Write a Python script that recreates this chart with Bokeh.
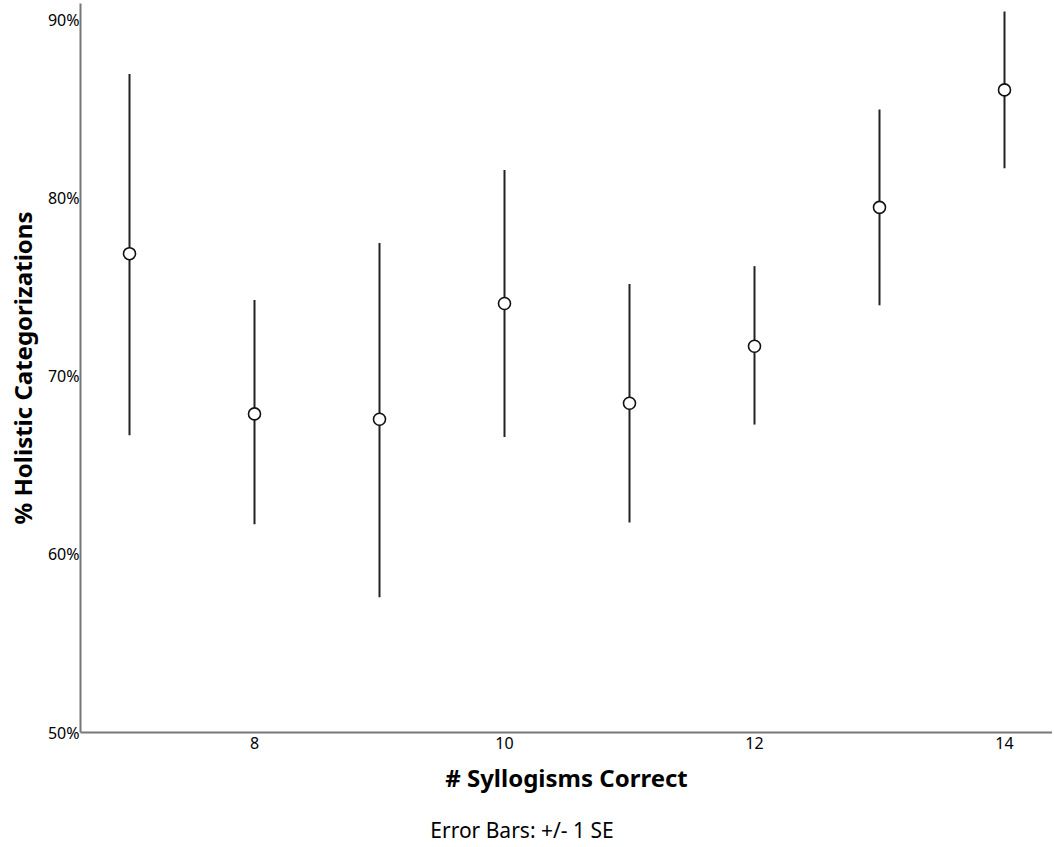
from bokeh.plotting import figure
from bokeh.models import FixedTicker, PrintfTickFormatter, Range1d, Div, ColumnDataSource
from bokeh.layouts import column
from bokeh.embed import file_html
from bokeh.resources import INLINE

syllogisms = [7, 8, 9, 10, 11, 12, 13, 14]
holistic_pct = [76.9, 67.9, 67.6, 74.1, 68.5, 71.7, 79.5, 86.1]
se_upper = [87.0, 74.3, 77.5, 81.6, 75.2, 76.2, 85.0, 90.5]
se_lower = [66.7, 61.7, 57.6, 66.6, 61.8, 67.3, 74.0, 81.7]
x_ticks = [8, 10, 12, 14]
y_ticks = [50, 60, 70, 80, 90]
note_text = "Error Bars: +/- 1 SE"

FONT = "Noto Sans"

src = ColumnDataSource(dict(x=syllogisms, y=holistic_pct, up=se_upper, lo=se_lower))

p = figure(width=1052, height=816, output_backend="svg", toolbar_location=None,
           x_range=Range1d(6.608, 14.384), y_range=Range1d(50, 90.955),
           min_border_left=80, min_border_right=0, min_border_top=3, min_border_bottom=84)
p.outline_line_color = None
p.grid.visible = False
p.background_fill_color = "white"

p.segment(x0="x", y0="lo", x1="x", y1="up", source=src, line_color="#222222", line_width=2)
p.scatter(x="x", y="y", source=src, marker="circle", size=12, fill_color="white",
          line_color="#111111", line_width=1.6)

for ax in (p.xaxis[0], p.yaxis[0]):
    ax.axis_line_color = "#777777"
    ax.axis_line_width = 2
    ax.major_tick_line_color = None
    ax.minor_tick_line_color = None
    ax.major_tick_out = 0
    ax.major_tick_in = 0
    ax.major_label_text_font = FONT
    ax.major_label_text_font_size = "16px"
    ax.major_label_text_color = "black"
    ax.axis_label_text_font = FONT
    ax.axis_label_text_font_size = "24px"
    ax.axis_label_text_font_style = "bold"
    ax.axis_label_text_color = "black"

p.xaxis[0].ticker = FixedTicker(ticks=x_ticks)
p.yaxis[0].ticker = FixedTicker(ticks=y_ticks)
p.yaxis[0].formatter = PrintfTickFormatter(format="%d%%")
p.xaxis[0].axis_label = "# Syllogisms Correct"
p.yaxis[0].axis_label = "% Holistic Categorizations"
p.xaxis[0].major_label_standoff = 4
p.yaxis[0].major_label_standoff = 1
p.xaxis[0].axis_label_standoff = 9
p.yaxis[0].axis_label_standoff = 6

note = Div(text=note_text, width=1052, height=30,
           styles={"text-align": "center", "font-family": "Noto Sans", "font-size": "21px",
                   "color": "black", "line-height": "28px", "margin": "0",
                   "padding-right": "8px", "box-sizing": "border-box"})

layout = column(p, note, spacing=0)

open("out.html", "w").write(file_html(layout, INLINE))
